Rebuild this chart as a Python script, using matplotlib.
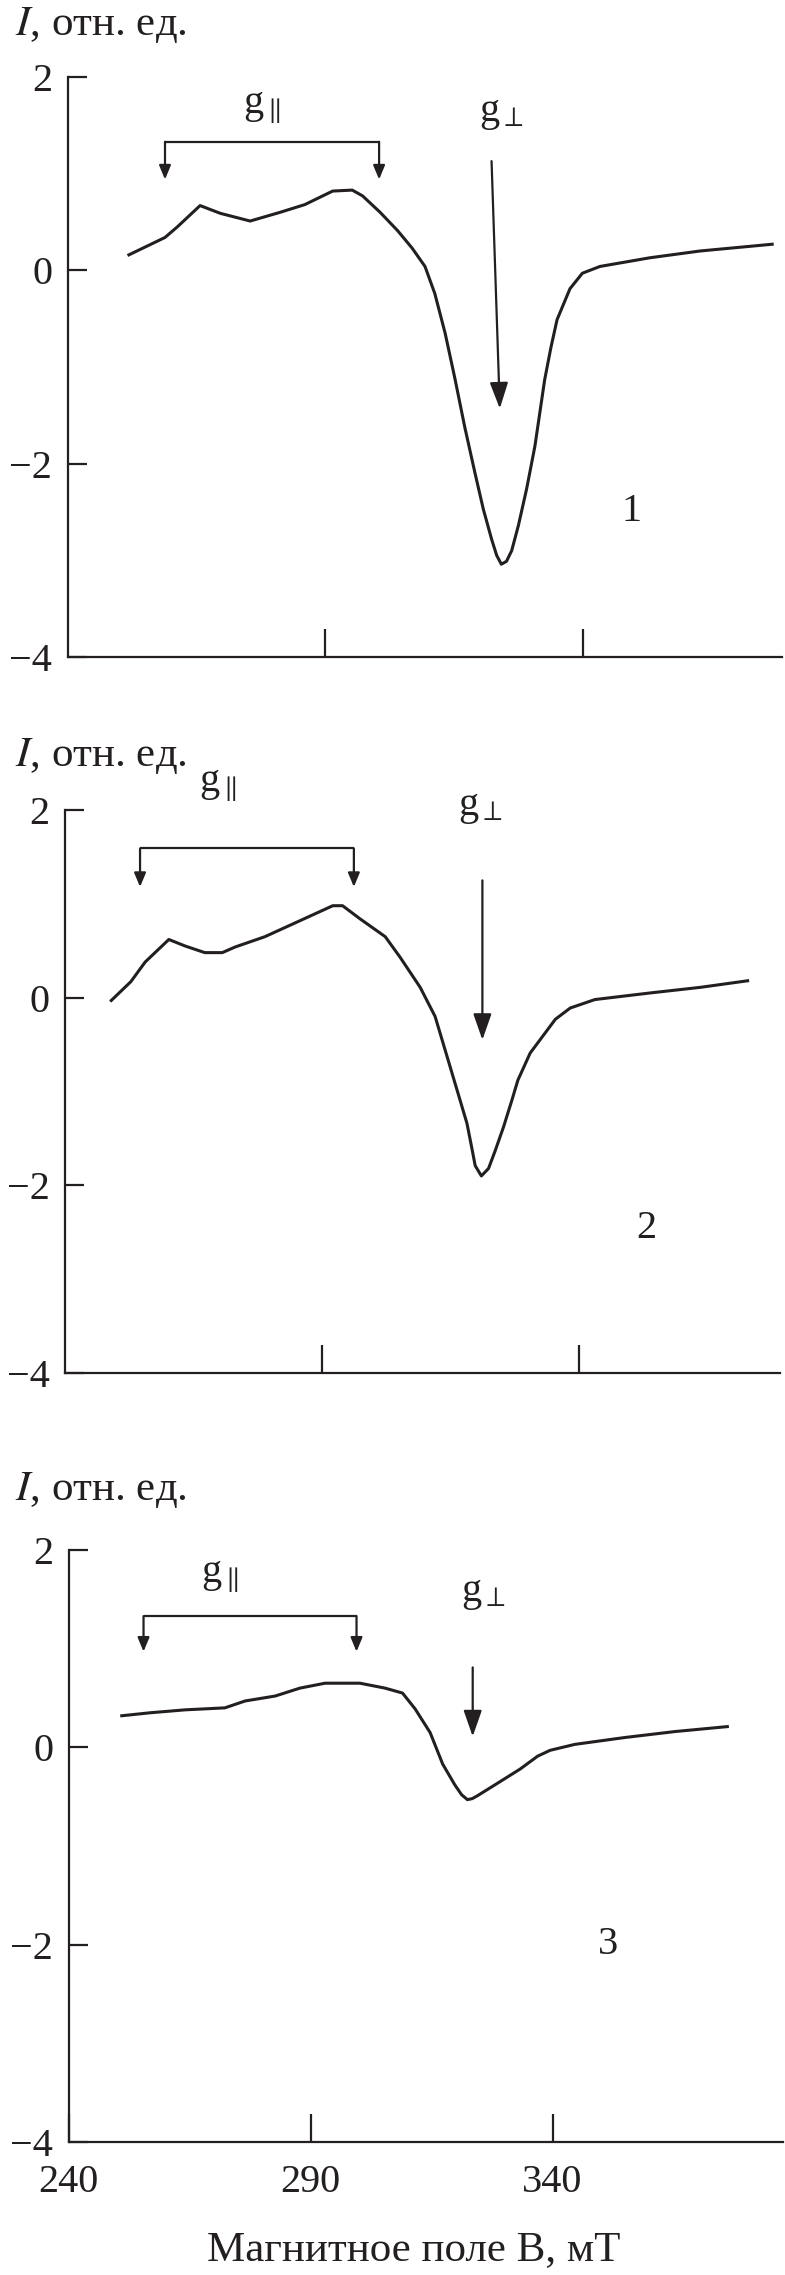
import numpy as np
import matplotlib.pyplot as plt

plt.rcParams['font.family'] = ['Liberation Serif', 'DejaVu Serif']
plt.rcParams['mathtext.fontset'] = 'stix'

# spectrum 1
b1 = [251.9, 258.9, 261.3, 265.7, 269.6, 275.4, 281.2, 286.0, 291.4, 295.2, 297.2,
      300.6, 304.0, 306.8, 309.3, 311.2, 313.2, 315.1, 317.0, 319.0, 320.6, 322.2,
      323.2, 324.1, 325.1, 326.1, 327.4, 329.0, 330.6, 332.5, 333.7, 334.9, 337.4,
      339.8, 343.2, 352.9, 362.6, 376.6]
i1 = [0.16, 0.34, 0.45, 0.67, 0.59, 0.51, 0.60, 0.68, 0.82, 0.83, 0.77,
      0.60, 0.41, 0.23, 0.04, -0.24, -0.65, -1.12, -1.62, -2.10, -2.47, -2.78,
      -2.95, -3.04, -3.01, -2.90, -2.64, -2.26, -1.82, -1.13, -0.80, -0.51, -0.19,
      -0.03, 0.04, 0.13, 0.20, 0.27]

# spectrum 2
b2 = [249.0, 252.8, 255.6, 260.2, 263.4, 267.2, 270.6, 273.1, 278.9, 285.7, 292.1,
      294.0, 297.4, 302.3, 305.2, 309.1, 312.0, 314.4, 316.9, 318.2, 319.1, 319.8,
      321.0, 322.4, 323.7, 325.3, 326.9, 328.1, 330.5, 335.4, 338.3, 343.1, 353.8,
      363.6, 372.8]
i2 = [-0.03, 0.17, 0.38, 0.62, 0.55, 0.48, 0.48, 0.54, 0.65, 0.82, 0.98,
      0.98, 0.84, 0.65, 0.43, 0.11, -0.20, -0.64, -1.10, -1.34, -1.59, -1.79,
      -1.90, -1.82, -1.63, -1.38, -1.10, -0.88, -0.59, -0.23, -0.11, -0.02, 0.05,
      0.11, 0.18]

# spectrum 3
b3 = [251.0, 256.8, 264.1, 272.3, 276.5, 282.7, 287.8, 293.0, 300.2, 305.4, 309.0,
      311.6, 314.7, 317.3, 319.8, 321.2, 322.4, 323.4, 324.5, 328.1, 333.3, 336.9,
      339.5, 344.6, 355.0, 365.3, 376.1]
i3 = [0.32, 0.35, 0.38, 0.40, 0.47, 0.52, 0.60, 0.65, 0.65, 0.60, 0.55,
      0.39, 0.15, -0.17, -0.38, -0.48, -0.53, -0.52, -0.49, -0.38, -0.22, -0.09,
      -0.03, 0.03, 0.10, 0.16, 0.21]

yticks = [-4, -2, 0, 2]
yticklabels = ['\u22124', '\u22122', '0', '2']
xticks = [240, 290, 340]
xticklabels = ['240', '290', '340']

W, H = 785, 2275
C = '#231f20'
FS = 29

fig = plt.figure(figsize=(W / 100, H / 100), dpi=100)


def make_ax(left, right, top, bottom, xmax):
    ax = fig.add_axes([left / W, 1 - bottom / H, (right - left) / W, (bottom - top) / H])
    ax.set_xlim(240, xmax)
    ax.set_ylim(-4, 2)
    for s in ['top', 'right']:
        ax.spines[s].set_visible(False)
    for s in ['left', 'bottom']:
        ax.spines[s].set_linewidth(1.6)
        ax.spines[s].set_color(C)
    ax.set_yticks(yticks)
    ax.set_yticklabels(yticklabels)
    ax.tick_params(axis='y', direction='in', length=14, width=1.6, color=C,
                   labelsize=FS, pad=11, labelcolor=C)
    ax.tick_params(axis='x', direction='in', length=20, width=1.6, color=C,
                   labelsize=FS, pad=16, labelcolor=C)
    return ax


def bracket(ax, xa, xb, ytop, ybot):
    ax.plot([xa, xb], [ytop, ytop], color=C, lw=1.6, solid_capstyle='butt')
    for xx in (xa, xb):
        ax.annotate('', xy=(xx, ybot), xytext=(xx, ytop),
                    arrowprops=dict(arrowstyle='-|>,head_width=0.25,head_length=0.6',
                                    lw=1.6, color=C, shrinkA=0, shrinkB=0,
                                    mutation_scale=14))


def big_arrow(ax, x0, y0, x1, y1):
    ax.annotate('', xy=(x1, y1), xytext=(x0, y0),
                arrowprops=dict(arrowstyle='-|>,head_width=0.28,head_length=0.8',
                                lw=1.6, color=C, shrinkA=0, shrinkB=0,
                                mutation_scale=20))


# panel 1
ax1 = make_ax(67.5, 782, 77, 657, 378.5)
ax1.plot(b1, i1, color=C, lw=2.2)
ax1.set_xticks([290, 340])
ax1.set_xticklabels([])
bracket(ax1, 258.9, 300.4, 1.33, 0.94)
big_arrow(ax1, 322.2, 1.13, 323.8, -1.43)
ax1.text(277.7, 1.69, r'g$_{\parallel}$', fontsize=FS, ha='center', va='center', color=C)
ax1.text(324.2, 1.62, r'g$_{\perp}$', fontsize=FS, ha='center', va='center', color=C)
ax1.text(349.4, -2.49, '1', fontsize=FS, ha='center', va='center', color=C)

# panel 2
ax2 = make_ax(65, 780, 810, 1373, 379.1)
ax2.plot(b2, i2, color=C, lw=2.2)
ax2.set_xticks([290, 340])
ax2.set_xticklabels([])
bracket(ax2, 254.6, 296.2, 1.59, 1.18)
big_arrow(ax2, 321.2, 1.25, 321.2, -0.45)
ax2.text(269.7, 2.27, r'g$_{\parallel}$', fontsize=FS, ha='center', va='center',
         color=C, clip_on=False)
ax2.text(320.8, 2.03, r'g$_{\perp}$', fontsize=FS, ha='center', va='center',
         color=C, clip_on=False)
ax2.text(353.1, -2.46, '2', fontsize=FS, ha='center', va='center', color=C)

# panel 3
ax3 = make_ax(68.5, 783, 1550, 2142, 387.6)
ax3.plot(b3, i3, color=C, lw=2.2)
ax3.set_xticks(xticks)
ax3.set_xticklabels(xticklabels)
bracket(ax3, 255.5, 299.5, 1.33, 0.97)
big_arrow(ax3, 323.5, 0.81, 323.5, 0.11)
ax3.text(271.3, 1.74, r'g$_{\parallel}$', fontsize=FS, ha='center', va='center', color=C)
ax3.text(325.8, 1.56, r'g$_{\perp}$', fontsize=FS, ha='center', va='center', color=C)
ax3.text(351.4, -2.0, '3', fontsize=FS, ha='center', va='center', color=C)

# y labels
for yc in (25, 756, 1490):
    fig.text(15 / W, 1 - yc / H, r'$I$, отн. ед.', fontsize=31, ha='left', va='center', color=C)

fig.text(414 / W, 1 - 2250 / H, 'Магнитное поле B, мТ', fontsize=31, ha='center',
         va='center', color=C)

fig.savefig('out.png', dpi=100)
